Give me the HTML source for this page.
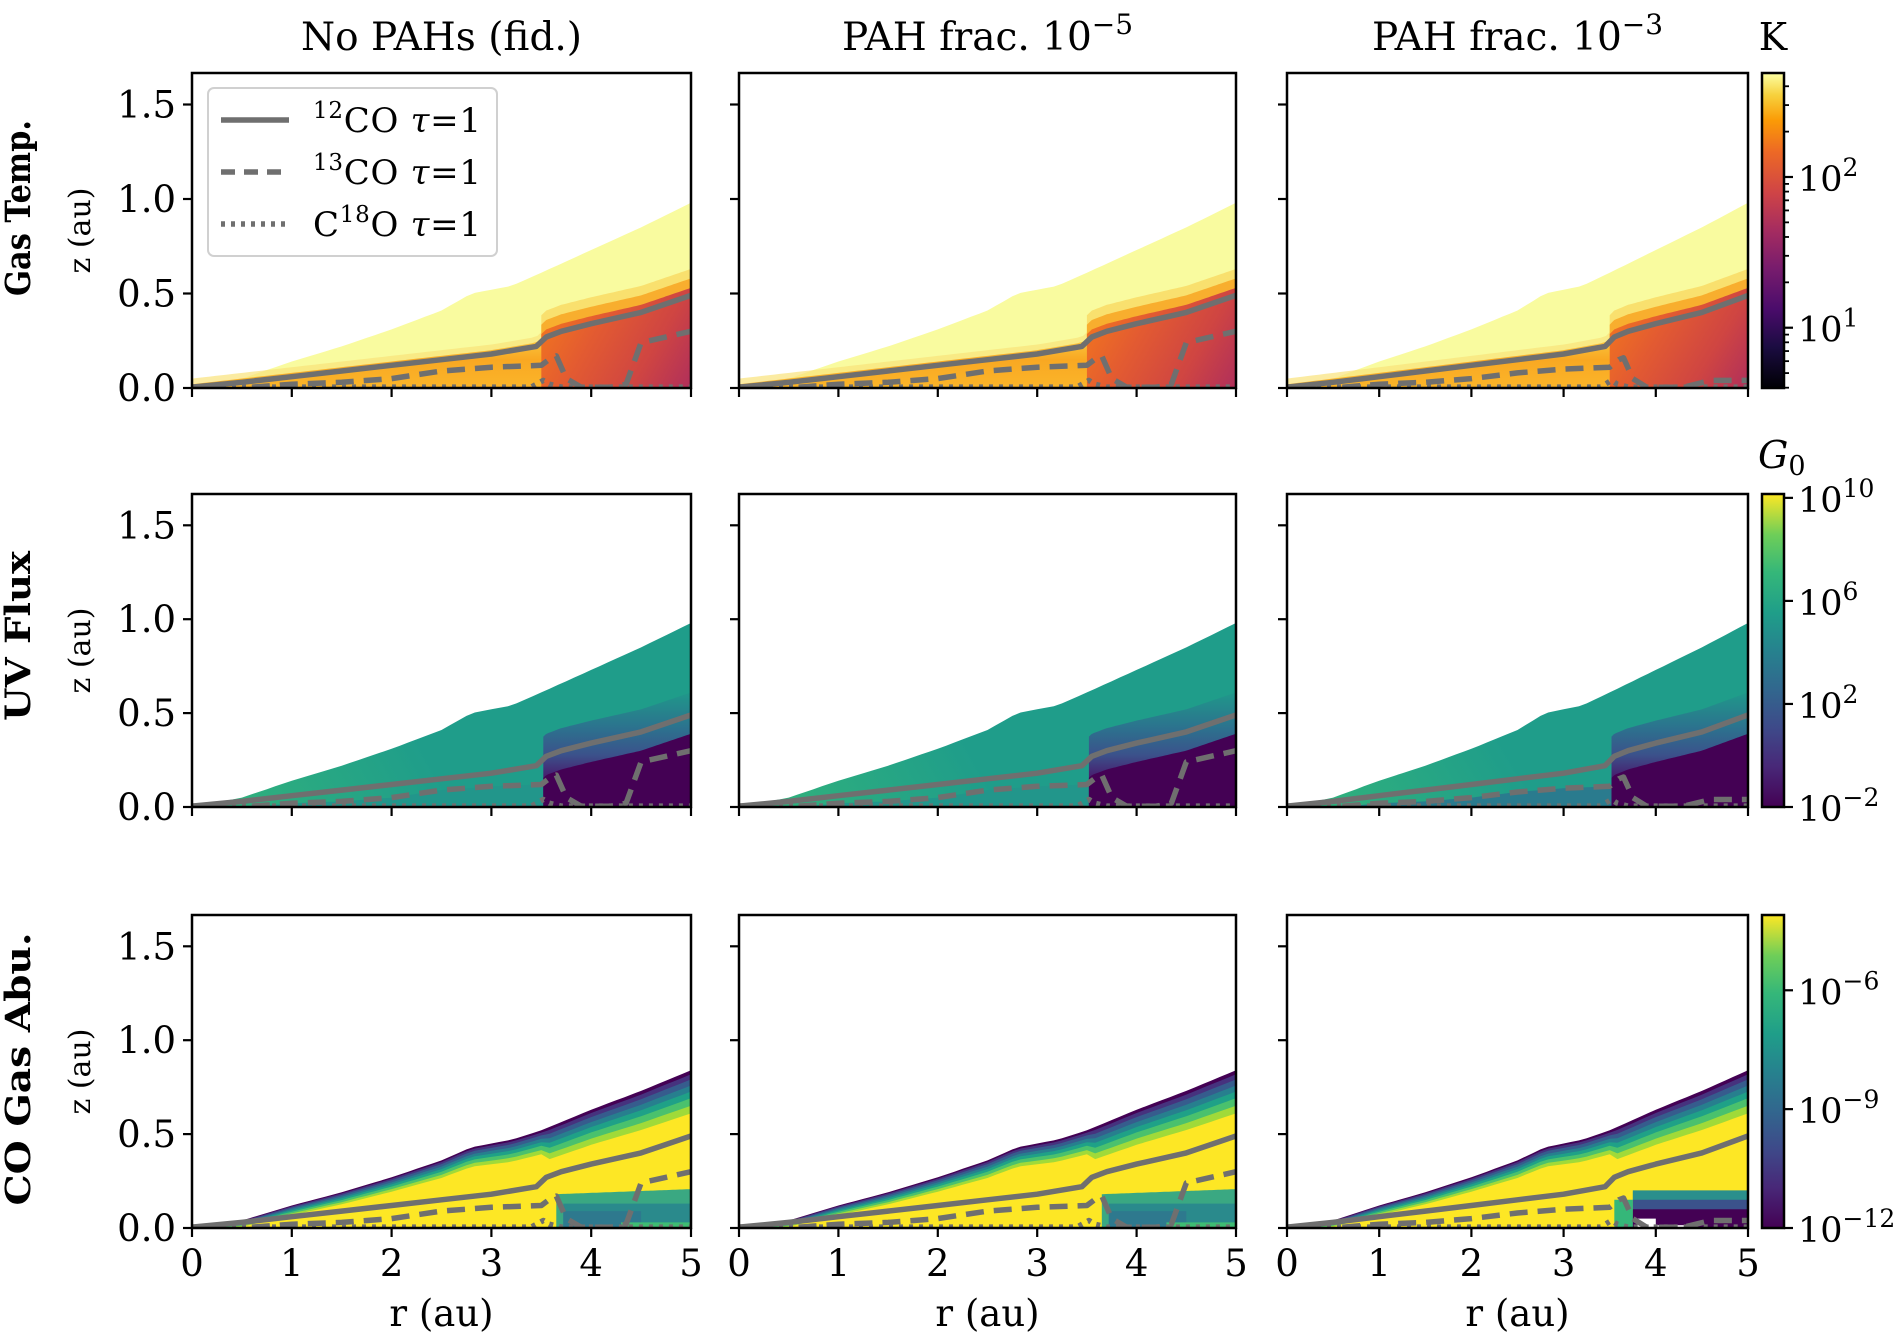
<!DOCTYPE html>
<html><head><meta charset="utf-8"><style>
html,body{margin:0;padding:0;background:#fff}
svg text{font-family:"DejaVu Serif","Liberation Serif",serif;fill:#000}
</style></head><body>
<svg id="fig" width="1900" height="1333" viewBox="0 0 1900 1333" xmlns="http://www.w3.org/2000/svg">
<defs>
<linearGradient id="inferno" x1="0" y1="1" x2="0" y2="0">
<stop offset="0" stop-color="#000004"/><stop offset="0.13" stop-color="#1b0c41"/><stop offset="0.25" stop-color="#4a0c6b"/><stop offset="0.38" stop-color="#781c6d"/><stop offset="0.5" stop-color="#a52c60"/><stop offset="0.62" stop-color="#cf4446"/><stop offset="0.75" stop-color="#ed6925"/><stop offset="0.85" stop-color="#fb9b06"/><stop offset="0.93" stop-color="#f7d13d"/><stop offset="1" stop-color="#fcffa4"/></linearGradient>
<linearGradient id="viridis" x1="0" y1="1" x2="0" y2="0">
<stop offset="0" stop-color="#440154"/><stop offset="0.13" stop-color="#482878"/><stop offset="0.25" stop-color="#3e4989"/><stop offset="0.38" stop-color="#31688e"/><stop offset="0.5" stop-color="#26828e"/><stop offset="0.62" stop-color="#1f9e89"/><stop offset="0.75" stop-color="#35b779"/><stop offset="0.87" stop-color="#6ece58"/><stop offset="1" stop-color="#fde725"/></linearGradient>
</defs>
</svg>
<script>
// ---- data ----
const colTitles = ["No PAHs (fid.)", "PAH frac. 10", "PAH frac. 10"];
const colTitleSup = ["", "\u22125", "\u22123"];
const rowLabels = ["Gas Temp.", "UV Flux", "CO Gas Abu."];
const yTicks = [0.0, 0.5, 1.0, 1.5];
const yTickLabels = ["0.0", "0.5", "1.0", "1.5"];
const xTicks = [0, 1, 2, 3, 4, 5];
const rDisk = [0, 0.5, 1, 1.5, 2, 2.5, 2.8, 3.2, 3.5, 4, 4.5, 5];
const zDisk = [0, 0.05, 0.14, 0.22, 0.31, 0.41, 0.5, 0.54, 0.61, 0.73, 0.85, 0.98];
const zCOtop = [0, 0.04, 0.12, 0.19, 0.27, 0.36, 0.43, 0.47, 0.52, 0.63, 0.73, 0.84];
const rCOthick = [0, 1, 2, 3, 3.5, 3.55, 4, 5];
const zCOthick = [0.02, 0.06, 0.09, 0.13, 0.15, 0.2, 0.22, 0.27];
const r12 = [0, 0.5, 1, 1.5, 2, 2.5, 3, 3.45, 3.55, 3.7, 4, 4.5, 5];
const z12 = [0, 0.03, 0.06, 0.09, 0.12, 0.15, 0.18, 0.22, 0.27, 0.3, 0.34, 0.4, 0.49];
const r13a = [0.6, 1, 1.5, 2, 2.5, 3, 3.5, 3.6, 3.65, 3.75, 3.9, 4.2, 4.35, 4.5, 5];
const z13a = [0, 0.02, 0.03, 0.05, 0.09, 0.11, 0.12, 0.16, 0.17, 0.05, 0, 0, 0.02, 0.24, 0.3];
const r13b = [0.6, 1, 1.5, 2, 2.5, 3, 3.5, 3.6, 3.65, 3.75, 3.9, 4.3, 4.6, 5];
const z13b = [0, 0.02, 0.03, 0.05, 0.08, 0.1, 0.11, 0.15, 0.16, 0.05, 0, 0, 0.04, 0.04];
const r18 = [0, 3.4, 3.52, 3.58, 3.7, 5];
const z18 = [0.005, 0.005, 0.04, 0.02, 0.005, 0.005];
const cbTempTicks = [1, 2];
const cbUVTicks = [-2, 2, 6, 10];
const cbCOTicks = [-12, -9, -6];
const cbRanges = [[0.6, 2.69], [-2, 10.15], [-12, -4.1]];

const NS = "http://www.w3.org/2000/svg";
const svg = document.getElementById("fig");
const defs = svg.querySelector("defs");
const cols = [[192, 691], [739, 1236], [1287, 1748]];
const rows = [[73, 388], [494, 807], [915, 1228]];
const ZMAX = 1.6667;
const TF = 37;
const rowLabelCenter = [208, 636, 1069];
const rowLabelLen = [176, 170, 273];
function mk(tag, attrs, parent) { const e = document.createElementNS(NS, tag); for (const k in attrs) e.setAttribute(k, attrs[k]); (parent || svg).appendChild(e); return e; }
function interp(xs, ys, x) { if (x <= xs[0]) return ys[0]; for (let i = 1; i < xs.length; i++) if (x <= xs[i]) { const t = (x - xs[i - 1]) / (xs[i] - xs[i - 1]); return ys[i - 1] + t * (ys[i] - ys[i - 1]); } return ys[ys.length - 1]; }
function sx(c, r) { return cols[c][0] + r / 5 * (cols[c][1] - cols[c][0]); }
function sy(rw, z) { return rows[rw][1] - z / ZMAX * (rows[rw][1] - rows[rw][0]); }
function sample(r0, r1, f) { const pts = []; const n = 60; for (let i = 0; i <= n; i++) { const r = r0 + (r1 - r0) * i / n; pts.push([r, f(r)]); } return pts; }
function areaPts(c, rw, r0, r1, f) { const p = sample(r0, r1, f).map(q => sx(c, q[0]).toFixed(1) + "," + sy(rw, Math.max(0, q[1])).toFixed(1)); p.push(sx(c, r1) + "," + sy(rw, 0)); p.push(sx(c, r0) + "," + sy(rw, 0)); return p.join(" "); }
function lin(id, x1, y1, x2, y2, stops) { const g = mk("linearGradient", { id: id, gradientUnits: "userSpaceOnUse", x1: x1, y1: y1, x2: x2, y2: y2 }, defs); stops.forEach(s => mk("stop", { offset: s[0], "stop-color": s[1] }, g)); return "url(#" + id + ")"; }

const diskF = r => interp(rDisk, zDisk, r);
const coTopF = r => interp(rDisk, zCOtop, r);
const l12 = r => interp(r12, z12, r);

for (let rw = 0; rw < 3; rw++) for (let c = 0; c < 3; c++) {
  const g = mk("g", {});
  
  
  const L = cols[c][0], R = cols[c][1], T = rows[rw][0], B = rows[rw][1];
  const cid = "clip" + rw + c;
  const cp = mk("clipPath", { id: cid }, defs);
  mk("rect", { x: L, y: T, width: R - L, height: B - T }, cp);
  const h = mk("g", { "clip-path": "url(#" + cid + ")" }, g);
  const l13r = c === 2 ? r13b : r13a, l13z = c === 2 ? z13b : z13a;
  const l13 = r => interp(l13r, l13z, r);
  if (rw === 0) {
    mk("polygon", { points: areaPts(c, rw, 0, 5, diskF), fill: "#f9fb9f" }, h);
    mk("polygon", { points: areaPts(c, rw, 0, 3.52, r => l12(r) + 0.05), fill: "#f9e27a", opacity: 0.7 }, h);
    mk("polygon", { points: areaPts(c, rw, 0, 3.52, r => l12(r) + 0.02), fill: lin("ti" + c, 0, sy(rw, 0.25), 0, sy(rw, 0), [[0, "#f9c33c"], [0.4, "#f9a822"], [1, "#fab52a"]]) }, h);
    mk("polygon", { points: areaPts(c, rw, 3.5, 5, r => l12(r) + 0.14), fill: "#f9d45a", opacity: 0.7 }, h);
    mk("polygon", { points: areaPts(c, rw, 3.5, 5, r => l12(r) + 0.09), fill: "#f8a423", opacity: 0.85 }, h);
    mk("polygon", { points: areaPts(c, rw, 3.5, 5, r => l12(r) + 0.04), fill: lin("to" + c, sx(c, 3.5), sy(rw, 0.45), sx(c, 5), sy(rw, 0), [[0, "#f3781d"], [0.35, "#e35b31"], [0.7, "#cf4542"], [1, "#b02f5b"]]) }, h);
  } else if (rw === 1) {
    mk("polygon", { points: areaPts(c, rw, 0, 5, diskF), fill: lin("uv" + c, sx(c, 0), sy(rw, 0), sx(c, 2), sy(rw, 0.6), [[0, "#33b47a"], [1, "#1f9d8a"]]) }, h);
    mk("polygon", { points: areaPts(c, rw, 0, 3.52, l13), fill: c === 2 ? "#2a7b8e" : "#22968b" }, h);
    mk("polygon", { points: areaPts(c, rw, 3.52, 5, r => l12(r) + 0.12), fill: lin("uvo" + c, 0, sy(rw, 0.62), 0, sy(rw, 0.05), [[0, "#1f9a8a"], [0.35, "#2c728e"], [0.6, "#3b528b"], [0.8, "#471f6f"], [1, "#440154"]]) }, h);
    mk("polygon", { points: areaPts(c, rw, 3.52, 5, r => l12(r) - 0.1), fill: "#440154" }, h);
  } else {
    const th = r => interp(rCOthick, zCOthick, r);
    const bands = [[0, "#440154"], [0.08, "#46327e"], [0.18, "#365c8d"], [0.3, "#277f8e"], [0.42, "#1fa187"], [0.55, "#4ac16d"], [0.7, "#a0da39"], [0.85, "#fde725"]];
    bands.forEach(b => mk("polygon", { points: areaPts(c, rw, 0, 5, r => coTopF(r) - b[0] * th(r)), fill: b[1] }, h));
    if (c < 2) {
      mk("polygon", { points: areaPts(c, rw, 3.65, 5, r => Math.min(0.18 + (r - 3.65) * 0.02, l12(r) - 0.07)), fill: "#3aa882" }, h);
      mk("polygon", { points: areaPts(c, rw, 3.72, 5, r => 0.13), fill: "#2a8a8c" }, h);
      mk("polygon", { points: areaPts(c, rw, 3.72, 4.5, r => 0.09), fill: "#2e798e" }, h);
      mk("polygon", { points: areaPts(c, rw, 4.3, 5, r => 0.03), fill: "#3fbc73" }, h);
    } else {
      mk("polygon", { points: areaPts(c, rw, 3.75, 5, r => 0.2), fill: "#2a8f8c" }, h);
      mk("polygon", { points: areaPts(c, rw, 3.75, 5, r => 0.15), fill: "#3b528b" }, h);
      mk("polygon", { points: areaPts(c, rw, 3.75, 5, r => 0.1), fill: "#440154" }, h);
      mk("polygon", { points: areaPts(c, rw, 3.55, 3.75, r => 0.15), fill: "#35b779" }, h);
      mk("rect", { x: sx(c, 3.8), y: sy(rw, 0.05), width: sx(c, 4.0) - sx(c, 3.8), height: sy(rw, 0) - sy(rw, 0.05), fill: "#fff" }, h);
      mk("rect", { x: sx(c, 4.0), y: sy(rw, 0.015), width: sx(c, 4.4) - sx(c, 4.0), height: sy(rw, 0) - sy(rw, 0.015), fill: "#fff" }, h);
    }
  }
  const lineDefs = [[r12, z12, "none", "12co-line"], [l13r, l13z, "18,10", "13co-line"], [r18, z18, "4,6", "c18o-line"]];
  lineDefs.forEach(ld => {
    const pts = ld[0].map((r, i) => sx(c, r).toFixed(1) + "," + sy(rw, Math.max(ld[1][i], 0.004)).toFixed(1)).join(" ");
    const pl = mk("polyline", { points: pts, fill: "none", stroke: "#6f6f6f", "stroke-width": 5.5, "stroke-dasharray": ld[2], "stroke-linejoin": "round" }, h);
    
    
  });
  mk("rect", { x: L, y: T, width: R - L, height: B - T, fill: "none", stroke: "#000", "stroke-width": 2.5 }, g);
  yTicks.forEach((v, i) => {
    mk("line", { x1: L - 9, x2: L, y1: sy(rw, v), y2: sy(rw, v), stroke: "#000", "stroke-width": 2.2 }, g);
    if (c === 0) { const t = mk("text", { x: L - 16, y: sy(rw, v) + 13, "text-anchor": "end", "font-size": TF }, g); t.textContent = yTickLabels[i];   }
  });
  xTicks.forEach(v => {
    mk("line", { x1: sx(c, v), x2: sx(c, v), y1: B, y2: B + 9, stroke: "#000", "stroke-width": 2.2 }, g);
    if (rw === 2) { const t = mk("text", { x: sx(c, v), y: B + 48, "text-anchor": "middle", "font-size": TF }, g); t.textContent = v;   }
  });
  if (c === 0) {
    const t = mk("text", { transform: "translate(90," + ((T + B) / 2) + ") rotate(-90)", "text-anchor": "middle", "font-size": 30 }, g); t.textContent = "z (au)";
     
    const rl = mk("text", { transform: "translate(30," + rowLabelCenter[rw] + ") rotate(-90)", "text-anchor": "middle", "font-size": 35, "font-weight": "bold", textLength: rowLabelLen[rw], lengthAdjust: "spacingAndGlyphs" }, g); rl.textContent = rowLabels[rw];
     
  }
  if (rw === 2) {
    const t = mk("text", { x: (L + R) / 2, y: B + 98, "text-anchor": "middle", "font-size": TF }, g); t.textContent = "r (au)";
     
  }
  if (rw === 0) {
    const t = mk("text", { x: (L + R) / 2, y: 50, "text-anchor": "middle", "font-size": 39 }, g);
    t.textContent = colTitles[c];
    if (colTitleSup[c]) { const s = mk("tspan", { dy: -16, "font-size": 28 }, t); s.textContent = colTitleSup[c]; }
     
  }
}

// legend
const lg = mk("g", {});


mk("rect", { x: 208, y: 88, width: 289, height: 168, rx: 6, fill: "#fff", "fill-opacity": 0.85, stroke: "#d0d0d0", "stroke-width": 2 }, lg);
const legItems = [["12", "CO", "none", 120], ["13", "CO", "14,9", 172], ["18", "", "4,6", 224]];
legItems.forEach((it, i) => {
  const e = mk("g", {}, lg);
  
  
  mk("line", { x1: 221, x2: 289, y1: it[3], y2: it[3], stroke: "#6f6f6f", "stroke-width": 5.5, "stroke-dasharray": it[2] }, e);
  const t = mk("text", { x: 313, y: it[3] + 12, "font-size": 34 }, e);
  if (i < 2) { const s = mk("tspan", { dy: -14, "font-size": 23 }, t); s.textContent = it[0]; const m = mk("tspan", { dy: 14 }, t); m.textContent = it[1] + " "; }
  else { const a = mk("tspan", {}, t); a.textContent = "C"; const s = mk("tspan", { dy: -14, "font-size": 23 }, t); s.textContent = it[0]; const m = mk("tspan", { dy: 14 }, t); m.textContent = "O "; }
  const tau = mk("tspan", { "font-style": "italic" }, t); tau.textContent = "\u03c4"; const eq = mk("tspan", {}, t); eq.textContent = "=1";
  t.setAttribute('textLength', 168);
});

// colorbars
const cbX = 1762, cbW = 22;
const cbGrad = ["url(#inferno)", "url(#viridis)", "url(#viridis)"];
const cbTickSets = [cbTempTicks, cbUVTicks, cbCOTicks];
for (let rw = 0; rw < 3; rw++) {
  const g = mk("g", {});
  
  
  const T = rows[rw][0], B = rows[rw][1];
  const [lo, hi] = cbRanges[rw];
  const cy = v => B - (v - lo) / (hi - lo) * (B - T);
  mk("rect", { x: cbX, y: T, width: cbW, height: B - T, fill: cbGrad[rw], stroke: "#000", "stroke-width": 2.5 }, g);
  if (rw === 0) {
    for (let d = 0; d <= 2; d++) for (let m = 1; m <= 9; m++) {
      const v = d + Math.log10(m); if (v < lo || v > hi || m === 1) continue;
      mk("line", { x1: cbX + cbW, x2: cbX + cbW + 5, y1: cy(v), y2: cy(v), stroke: "#000", "stroke-width": 1.8 }, g);
    }
  }
  cbTickSets[rw].forEach(v => {
    mk("line", { x1: cbX + cbW, x2: cbX + cbW + 9, y1: cy(v), y2: cy(v), stroke: "#000", "stroke-width": 2.2 }, g);
    const t = mk("text", { x: cbX + cbW + 14, y: cy(v) + 14, "font-size": 35, "font-family": rw === 1 ? "DejaVu Sans, sans-serif" : "DejaVu Serif, serif" }, g);
    const a = mk("tspan", {}, t); a.textContent = "10";
    const s = mk("tspan", { dy: -15, "font-size": 25 }, t); s.textContent = String(v).replace("-", "\u2212");
     
  });
}
const kT = mk("text", { x: 1773, y: 50, "text-anchor": "middle", "font-size": 38 }); kT.textContent = "K";
 
const gT = mk("text", { x: 1758, y: 468, "font-size": 38, "font-style": "italic", "font-family": "DejaVu Sans, sans-serif" });
gT.textContent = "G"; const g0 = mk("tspan", { dy: 7, "font-size": 27, "font-style": "normal" }, gT); g0.textContent = "0";
 
</script>
</body></html>
